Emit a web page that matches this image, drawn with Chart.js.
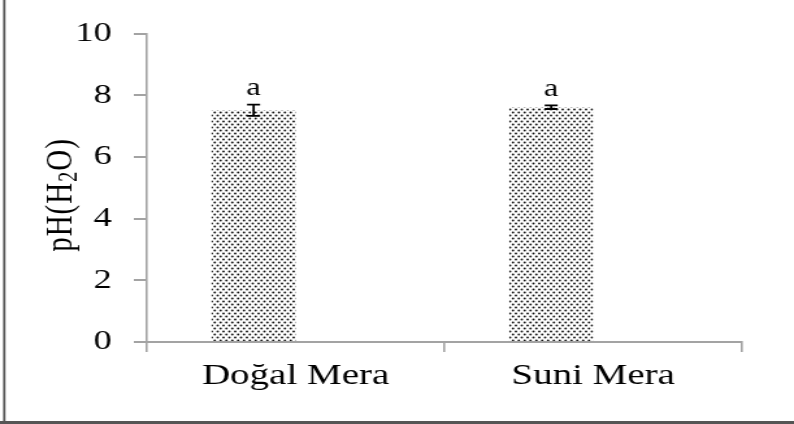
<!DOCTYPE html>
<html lang="tr">
<head>
<meta charset="UTF-8">
<meta name="viewport" content="width=device-width, initial-scale=1.0">
<title>pH (H2O) - Doğal ve Suni Mera</title>
<script src="https://cdn.jsdelivr.net/npm/chart.js"></script>
<style>
  html, body { margin: 0; padding: 0; background: #fff; overflow: hidden; }
  /* the reference picture is stretched sideways, so the chart is drawn narrow and widened */
  #wrap { position: relative; width: 611px; height: 424px; transform: scaleX(1.2995); transform-origin: 0 0; }
</style>
</head>
<body>

<div id="wrap"><canvas id="phChart"></canvas></div>

<script>
  const categories = ['Doğal Mera', 'Suni Mera'];
  const phValues = [7.52, 7.62];
  const phErrors = [0.18, 0.06];
  const sigLetters = ['a', 'a'];
  const yTicks = [0, 2, 4, 6, 8, 10];

  const serif = '"Liberation Serif", "Times New Roman", serif';

  function dotPattern() {
    const c = document.createElement('canvas');
    c.width = 9; c.height = 6;
    const g = c.getContext('2d');
    g.fillStyle = '#fff';
    g.fillRect(0, 0, 9, 6);
    g.fillStyle = '#111';
    [[1, 1.5], [5.5, 1.5], [3.25, 4.5], [7.75, 4.5]].forEach(([x, y]) => {
      g.beginPath(); g.arc(x, y, 0.95, 0, Math.PI * 2); g.fill();
    });
    return g.createPattern(c, 'repeat');
  }

  // left and bottom edge of the figure frame
  const framePlugin = {
    id: 'frame',
    afterDraw(chart) {
      const ctx = chart.ctx;
      ctx.save();
      ctx.strokeStyle = '#555';
      ctx.lineWidth = 1.8;
      ctx.beginPath(); ctx.moveTo(3.3, 0); ctx.lineTo(3.3, 424); ctx.stroke();
      ctx.lineWidth = 3;
      ctx.beginPath(); ctx.moveTo(0, 422.5); ctx.lineTo(chart.width, 422.5); ctx.stroke();
      ctx.restore();
    }
  };

  // error bars and the letters above them
  const errorPlugin = {
    id: 'errorBars',
    afterDatasetsDraw(chart) {
      const ctx = chart.ctx;
      const y = chart.scales.y;
      const meta = chart.getDatasetMeta(0);
      ctx.save();
      meta.data.forEach((bar, i) => {
        const top = y.getPixelForValue(phValues[i] + phErrors[i]);
        const bot = y.getPixelForValue(phValues[i] - phErrors[i]);
        ctx.strokeStyle = '#000';
        ctx.lineWidth = 1.8;
        ctx.beginPath();
        ctx.moveTo(bar.x, top); ctx.lineTo(bar.x, bot);
        ctx.moveTo(bar.x - 5, top); ctx.lineTo(bar.x + 5, top);
        ctx.moveTo(bar.x - 5, bot); ctx.lineTo(bar.x + 5, bot);
        ctx.stroke();
        ctx.fillStyle = '#000';
        ctx.font = '25px ' + serif;
        ctx.textAlign = 'center';
        ctx.textBaseline = 'alphabetic';
        ctx.fillText(sigLetters[i], bar.x, top - 9.5);
      });
      ctx.restore();
    }
  };

  // y axis title with subscript: pH(H2O)
  const yTitlePlugin = {
    id: 'yTitle',
    afterDraw(chart) {
      const ctx = chart.ctx;
      const parts = [['pH(H', 29, 0], ['2', 20, 6], ['O)', 29, 0]];
      const gap = 1;
      ctx.save();
      let total = 0;
      parts.forEach(p => { ctx.font = p[1] + 'px ' + serif; total += ctx.measureText(p[0]).width + gap * p[0].length; });
      ctx.translate(47.5, 195);
      ctx.rotate(-Math.PI / 2);
      ctx.fillStyle = '#000';
      ctx.textBaseline = 'middle';
      ctx.textAlign = 'left';
      let x = -total / 2;
      parts.forEach(p => {
        ctx.font = p[1] + 'px ' + serif;
        for (const ch of p[0]) {
          ctx.fillText(ch, x, p[2]);
          x += ctx.measureText(ch).width + gap;
        }
      });
      ctx.restore();
    }
  };

  const axisGray = '#a3a3a3';

  new Chart(document.getElementById('phChart').getContext('2d'), {
    type: 'bar',
    data: {
      labels: categories,
      datasets: [
        { label: 'pH', data: phValues, backgroundColor: dotPattern(), borderWidth: 0 },
        { label: '', data: categories.map(() => null), backgroundColor: 'rgba(0,0,0,0)' }
      ]
    },
    options: {
      responsive: true,
      maintainAspectRatio: false,
      animation: false,
      layout: { padding: { left: 0, right: 40, top: 33, bottom: 0 } },
      datasets: { bar: { barPercentage: 1, categoryPercentage: 0.565 } },
      plugins: {
        legend: { display: false },
        tooltip: { enabled: false }
      },
      scales: {
        x: {
          afterFit(scale) { scale.height = 82; },
          grid: { drawOnChartArea: false, drawTicks: true, tickLength: 10, offset: true, color: axisGray, lineWidth: 1.6 },
          border: { color: axisGray, width: 2 },
          ticks: { color: '#000', font: { family: serif, size: 30 }, padding: 6 }
        },
        y: {
          min: 0,
          max: 10,
          afterFit(scale) { scale.width = 113; },
          afterBuildTicks(scale) { scale.ticks = yTicks.map(v => ({ value: v })); },
          grid: { drawOnChartArea: false, drawTicks: true, tickLength: 10, color: axisGray, lineWidth: 2 },
          border: { color: axisGray, width: 1.6 },
          ticks: { color: '#000', font: { family: serif, size: 28 }, padding: 17 }
        }
      }
    },
    plugins: [framePlugin, errorPlugin, yTitlePlugin]
  });
</script>

</body>
</html>
